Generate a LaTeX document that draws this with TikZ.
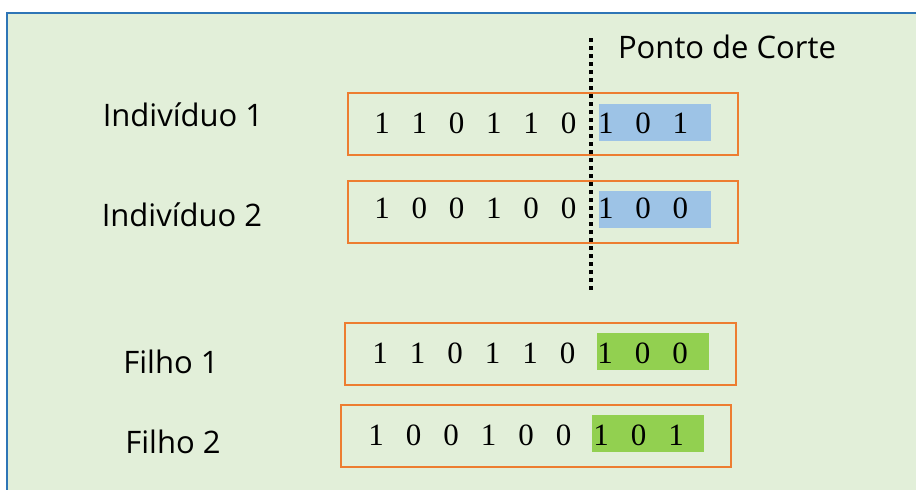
\documentclass[tikz,border=0pt]{standalone}
\usepackage{fontspec}
\setmainfont{Liberation Serif}
\newfontfamily\labelfont{Open Sans}
\definecolor{bggreen}{HTML}{E2EFD9}
\definecolor{framblue}{HTML}{2E75B6}
\definecolor{boxorange}{HTML}{ED7D31}
\definecolor{cutblue}{HTML}{9DC3E6}
\definecolor{kidgreen}{HTML}{92D050}
\tikzset{
    chromo/.style={draw=boxorange, line width=2pt, inner sep=0pt, minimum height=62pt},
    tail/.style={inner sep=0pt, minimum width=112pt, minimum height=37pt},
    bit/.style={inner sep=0pt, font=\fontsize{31}{36}\selectfont},
    lbl/.style={inner sep=0pt, font=\labelfont\fontsize{31}{36}\selectfont}
}
\begin{document}
\begin{tikzpicture}[x=1pt, y=-1pt]
    \useasboundingbox (0,0) rectangle (916,490);
    % Draw the background
    \fill[white] (0,0) rectangle (916,490);
    \fill[bggreen] (7,13) rectangle (916,490);
    \draw[framblue, line width=2pt] (7,490) -- (7,13) -- (916,13);

    % Chromosome boxes
    \node[chromo, minimum width=390pt] (ind1) at (543,124) {};
    \node[chromo, minimum width=390pt] (ind2) at (543,211.5) {};
    \node[chromo, minimum width=391pt] (fil1) at (540.5,354) {};
    \node[chromo, minimum width=390pt] (fil2) at (536,436) {};

    % Tails after the cut
    \node[tail, fill=cutblue] (t1) at (655,122.5) {};
    \node[tail, fill=cutblue] (t2) at (655,209.5) {};
    \node[tail, fill=kidgreen] (t3) at (653,351.5) {};
    \node[tail, fill=kidgreen] (t4) at (648,433.5) {};

    % Bits
    \foreach \d [count=\i] in {1,1,0,1,1,0,1,0,1} {
        \node[bit] (a\i) at ({382+37.3*(\i-1)}, 123) {\d};
    }
    \foreach \d [count=\i] in {1,0,0,1,0,0,1,0,0} {
        \node[bit] (b\i) at ({382+37.3*(\i-1)}, 208) {\d};
    }
    \foreach \d [count=\i] in {1,1,0,1,1,0,1,0,0} {
        \node[bit] (c\i) at ({380+37.5*(\i-1)}, 353) {\d};
    }
    \foreach \d [count=\i] in {1,0,0,1,0,0,1,0,1} {
        \node[bit] (d\i) at ({376+37.5*(\i-1)}, 435) {\d};
    }

    % Labels
    \node[lbl] (l1) at (183,115) {Indivíduo 1};
    \node[lbl] (l2) at (182,215) {Indivíduo 2};
    \node[lbl] (l3) at (171,362) {Filho 1};
    \node[lbl] (l4) at (173,442) {Filho 2};

    % Cut point
    \coordinate (cuttop) at (591,38);
    \coordinate (cutbot) at (591,294);
    \draw[line width=3.5pt, dash pattern=on 3.5pt off 4.5pt] (cuttop) -- (cutbot);
    \node[lbl] (corte) at (727,47) {Ponto de Corte};
\end{tikzpicture}
\end{document}
